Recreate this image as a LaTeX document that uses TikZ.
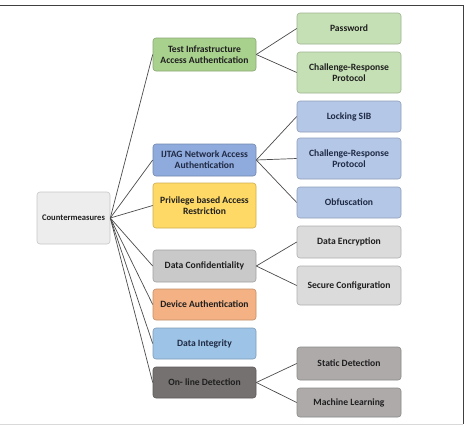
\documentclass[tikz,border=0pt]{standalone}
\usepackage{fontspec}
\setmainfont{Carlito}[BoldFont={Carlito Bold}]
\begin{document}
\begin{tikzpicture}[x=1pt,y=-1pt,
  box/.style={draw, rounded corners=3pt, line width=0.6pt, inner sep=0pt, align=center,
    font=\fontsize{9.6}{11.2}\selectfont\bfseries, text=black!88},
  midbox/.style={box, minimum width=103pt},
  rightbox/.style={box, minimum width=104pt},
  link/.style={draw=black!70, line width=0.7pt}]
\definecolor{cmfill}{HTML}{EDEDED}
\definecolor{gmid}{HTML}{A9D18E}
\definecolor{gright}{HTML}{C5E0B4}
\definecolor{bmid}{HTML}{8FAADC}
\definecolor{bright}{HTML}{B4C7E7}
\definecolor{ymid}{HTML}{FFD966}
\definecolor{graymid}{HTML}{C9C9C9}
\definecolor{grayright}{HTML}{DBDBDB}
\definecolor{omid}{HTML}{F4B183}
\definecolor{lbmid}{HTML}{9DC3E6}
\definecolor{dmid}{HTML}{767171}
\definecolor{dright}{HTML}{AEAAAA}
\definecolor{navytext}{HTML}{1F2A44}
\useasboundingbox (0,0) rectangle (466,426);
\fill[white] (0,0) rectangle (466,426);
\draw[black!75, line width=1pt] (0,5) -- (463,5) -- (463,424);
\draw[black!15, line width=1pt] (0,424) -- (463,424);

\node[box, fill=cmfill, draw=black!22, minimum width=73pt, minimum height=52pt,
  font=\fontsize{8.6}{10}\selectfont\bfseries] (cm) at (73.5,218) {Countermeasures};

\node[midbox, fill=gmid, draw=gmid!80!black, minimum height=33pt] (tia) at (204.5,54.5) {Test Infrastructure\\Access Authentication};
\node[midbox, fill=bmid, draw=bmid!80!black, minimum height=32pt, text=navytext] (ijtag) at (204.5,160) {IJTAG Network Access\\Authentication};
\node[midbox, fill=ymid, draw=ymid!80!black, minimum height=45pt] (priv) at (204.5,205.5) {Privilege based Access\\Restriction};
\node[midbox, fill=graymid, draw=graymid!80!black, minimum height=32pt] (dconf) at (204.5,266) {Data Confidentiality};
\node[midbox, fill=omid, draw=omid!80!black, minimum height=31pt] (dauth) at (204.5,304.5) {Device Authentication};
\node[midbox, fill=lbmid, draw=lbmid!80!black, minimum height=31pt, text=navytext] (dint) at (204.5,343.5) {Data Integrity};
\node[midbox, fill=dmid, draw=dmid!80!black, minimum height=31pt] (online) at (204.5,382.5) {On- line Detection};

\node[rightbox, fill=gright, draw=gright!80!black, minimum height=31pt] (pw) at (349,28.5) {Password};
\node[rightbox, fill=gright, draw=gright!80!black, minimum height=41pt] (crg) at (349,72.5) {Challenge-Response\\Protocol};
\node[rightbox, fill=bright, draw=bright!80!black, minimum height=31pt, text=navytext] (lock) at (349,116.5) {Locking SIB};
\node[rightbox, fill=bright, draw=bright!80!black, minimum height=41pt, text=navytext] (crb) at (349,158.5) {Challenge-Response\\Protocol};
\node[rightbox, fill=bright, draw=bright!80!black, minimum height=31pt, text=navytext] (obf) at (349,202.5) {Obfuscation};
\node[rightbox, fill=grayright, draw=grayright!80!black, minimum height=32pt] (denc) at (349,242) {Data Encryption};
\node[rightbox, fill=grayright, draw=grayright!80!black, minimum height=39pt] (sconf) at (349,285.5) {Secure Configuration};
\node[rightbox, fill=dright, draw=dright!80!black, minimum height=33pt] (static) at (349,363.5) {Static Detection};
\node[rightbox, fill=dright, draw=dright!80!black, minimum height=29pt] (ml) at (349,402.5) {Machine Learning};

\foreach \m in {tia,ijtag,priv,dconf,dauth,dint,online}
  \draw[link] (cm.east) -- (\m.west);
\draw[link] (tia.east) -- (pw.west);
\draw[link] (tia.east) -- (crg.west);
\draw[link] (ijtag.east) -- (lock.west);
\draw[link] (ijtag.east) -- (crb.west);
\draw[link] (ijtag.east) -- (obf.west);
\draw[link] (dconf.east) -- (denc.west);
\draw[link] (dconf.east) -- (sconf.west);
\draw[link] (online.east) -- (static.west);
\draw[link] (online.east) -- (ml.west);
\end{tikzpicture}
\end{document}
